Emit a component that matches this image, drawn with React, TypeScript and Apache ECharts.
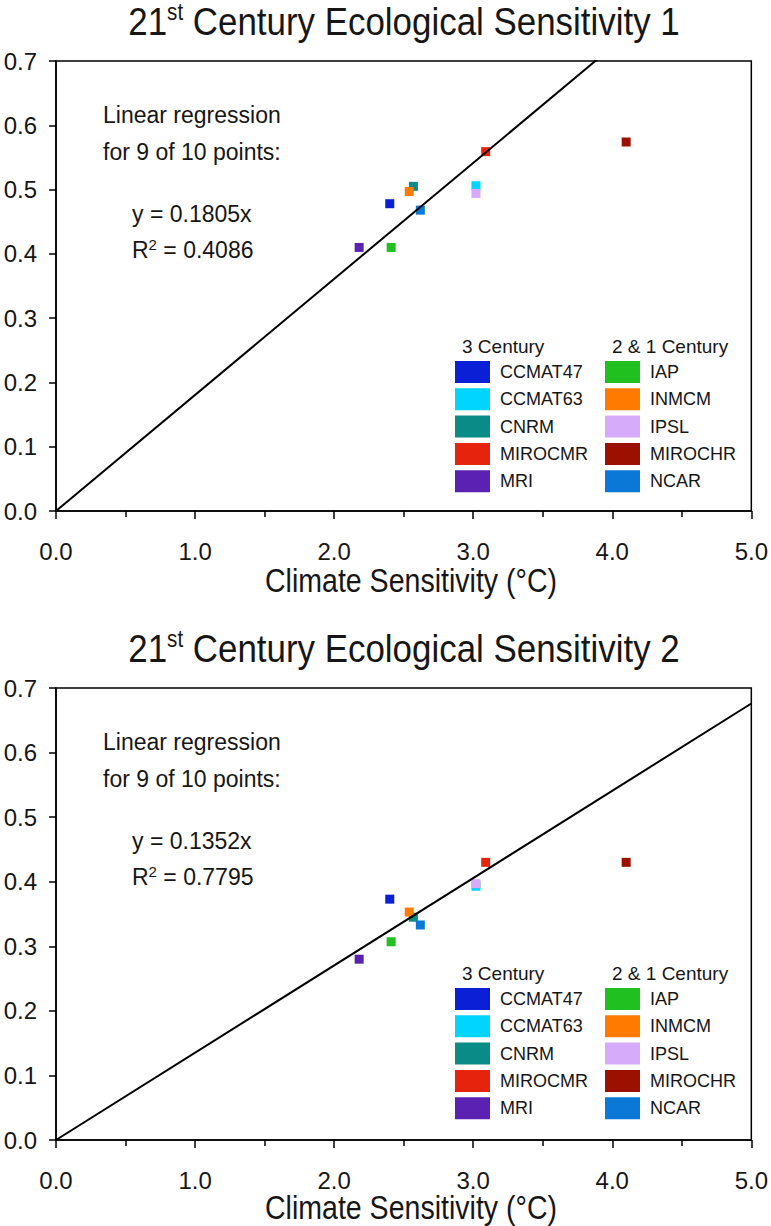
import React, { useEffect, useRef } from "react";
import * as echarts from "echarts";

// ---- data ----
const models = ["CCMAT47", "CCMAT63", "CNRM", "MIROCMR", "MRI", "IAP", "INMCM", "IPSL", "MIROCHR", "NCAR"];
const group3Century = ["CCMAT47", "CCMAT63", "CNRM", "MIROCMR", "MRI"];
const group21Century = ["IAP", "INMCM", "IPSL", "MIROCHR", "NCAR"];
const modelColors = ["#0b1fd6", "#00d5ff", "#0a8b88", "#e6230c", "#5a21b2", "#1fc01f", "#ff7b00", "#d5abfa", "#9b1000", "#0b78d8"];
const climateSensitivity = [2.40, 3.02, 2.57, 3.09, 2.18, 2.41, 2.54, 3.02, 4.10, 2.62];
const ecoSensitivity1 = [0.478, 0.506, 0.505, 0.559, 0.410, 0.410, 0.497, 0.494, 0.574, 0.468];
const ecoSensitivity2 = [0.373, 0.393, 0.345, 0.430, 0.280, 0.307, 0.353, 0.397, 0.430, 0.333];
const regressionSlopes = [0.1805, 0.1352];
const rSquared = ["0.4086", "0.7795"];
const chartNumbers = [1, 2];
const regressionXRange = [0, 5];
const xAxisTitle = "Climate Sensitivity (°C)";

const REG = "'Liberation Sans', Arial, Helvetica, sans-serif";
const TXT = "#161616";

export default function App() {
  const ref = useRef<HTMLDivElement>(null);
  useEffect(() => {
    if (!ref.current) return;
    const chart = echarts.init(ref.current, undefined, { renderer: "svg" });
    const ecoSets = [ecoSensitivity1, ecoSensitivity2];
    const offsets = [0, 627];
    const grids = [
      { left: 56, top: 61, width: 696, height: 450 },
      { left: 56, top: 688, width: 696, height: 452 },
    ].map((g) => ({ ...g, show: true, borderColor: "#000", borderWidth: 1.5, backgroundColor: "transparent" }));

    const xAxes = [0, 1].map((i) => ({
      type: "value",
      gridIndex: i,
      min: 0,
      max: 5,
      interval: 1,
      axisLine: { show: true, lineStyle: { color: "#000", width: 1.5 } },
      axisTick: { show: true, length: 8, lineStyle: { color: "#000", width: 1.5 } },
      minorTick: { show: true, splitNumber: 2, length: 6, lineStyle: { color: "#000", width: 1.5 } },
      splitLine: { show: false },
      axisLabel: { formatter: (v: number) => v.toFixed(1), fontSize: 24, fontFamily: REG, color: TXT, margin: 28 },
    }));
    const yAxes = [0, 1].map((i) => ({
      type: "value",
      gridIndex: i,
      min: 0,
      max: 0.7,
      interval: 0.1,
      axisLine: { show: true, lineStyle: { color: "#000", width: 1.5 } },
      axisTick: { show: true, length: 7, lineStyle: { color: "#000", width: 1.5 } },
      splitLine: { show: false },
      axisLabel: { formatter: (v: number) => v.toFixed(1), fontSize: 24, fontFamily: REG, color: TXT, margin: 19 },
    }));

    const series: any[] = [];
    [0, 1].forEach((c) => {
      models.forEach((m, i) => {
        series.push({
          type: "scatter",
          name: m,
          xAxisIndex: c,
          yAxisIndex: c,
          data: [[climateSensitivity[i], ecoSets[c][i]]],
          symbol: "rect",
          symbolSize: 9,
          itemStyle: { color: modelColors[i], opacity: 1 },
          z: 2,
          silent: true,
        });
      });
      series.push({
        type: "line",
        name: "regression" + c,
        xAxisIndex: c,
        yAxisIndex: c,
        data: regressionXRange.map((x) => [x, regressionSlopes[c] * x]),
        symbol: "none",
        showSymbol: false,
        clip: true,
        lineStyle: { color: "#000", width: 2 },
        z: 3,
        silent: true,
      });
    });

    const legends: any[] = [];
    const graphics: any[] = [];
    const annot = (x: number, y: number, text: string) => ({
      type: "text",
      x,
      y,
      style: {
        text,
        align: "left",
        verticalAlign: "middle",
        font: `23px ${REG}`,
        fill: TXT,
        rich: {
          t: { fontSize: 23, fontFamily: REG, fill: TXT, lineHeight: 26 },
          sup: { fontSize: 15, fontFamily: REG, fill: TXT, lineHeight: 14, verticalAlign: "top" },
        },
      },
    });
    [0, 1].forEach((c) => {
      const o = offsets[c];
      [group3Century, group21Century].forEach((grp, k) => {
        legends.push({
          orient: "vertical",
          left: k === 0 ? 455 : 605,
          top: 361 + o,
          padding: 0,
          itemWidth: 35,
          itemHeight: 22,
          itemGap: 5.3,
          icon: "rect",
          selectedMode: false,
          data: grp,
          itemStyle: { opacity: 1 },
          textStyle: { fontSize: 18, fontFamily: REG, color: TXT, padding: [0, 0, 0, 5] },
        });
      });
      graphics.push(
        { type: "text", x: 462, y: 346 + o, style: { text: "3 Century", font: `19px ${REG}`, fill: TXT, align: "left", verticalAlign: "middle" } },
        { type: "text", x: 612, y: 346 + o, style: { text: "2 & 1 Century", font: `19px ${REG}`, fill: TXT, align: "left", verticalAlign: "middle" } },
        annot(103, 115 + o, "{t|Linear regression}"),
        annot(103, 152 + o, "{t|for 9 of 10 points:}"),
        annot(132, 214 + o, `{t|y = ${regressionSlopes[c]}x}`),
        annot(132, 250 + o, `{t|R}{sup|2}{t| = ${rSquared[c]}}`),
        {
          type: "text",
          x: 404,
          y: 22 + o,
          scaleX: 0.895,
          style: {
            text: `{n|21}{s|st}{n| Century Ecological Sensitivity ${chartNumbers[c]}}`,
            align: "center",
            verticalAlign: "middle",
            rich: {
              n: { fontSize: 39, fontFamily: REG, fill: TXT, lineHeight: 42 },
              s: { fontSize: 23, fontFamily: REG, fill: TXT, lineHeight: 22, verticalAlign: "top" },
            },
          },
        },
        {
          type: "text",
          x: 411,
          y: 581 + o,
          scaleX: 0.84,
          style: { text: xAxisTitle, font: `34px ${REG}`, fill: TXT, align: "center", verticalAlign: "middle" },
        }
      );
    });

    chart.setOption({
      animation: false,
      backgroundColor: "#fff",
      grid: grids,
      xAxis: xAxes,
      yAxis: yAxes,
      legend: legends,
      series,
      graphic: graphics,
    });
    return () => chart.dispose();
  }, []);
  return <div ref={ref} style={{ position: "absolute", left: 0, top: 0, width: 771, height: 1226 }} />;
}
